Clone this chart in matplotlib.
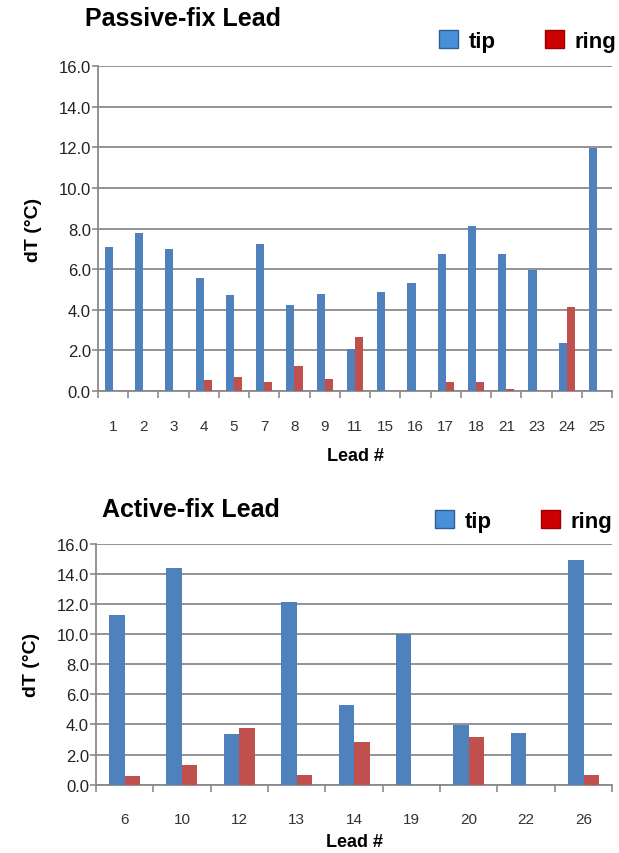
import numpy as np
import matplotlib.pyplot as plt
from matplotlib.patches import Patch

plt.rcParams['font.family'] = ['Liberation Sans', 'DejaVu Sans']

# Passive-fix leads
passive_leads = ['1', '2', '3', '4', '5', '7', '8', '9', '11', '15', '16', '17', '18', '21', '23', '24', '25']
passive_tip = [7.1, 7.76, 6.97, 5.55, 4.71, 7.22, 4.22, 4.78, 2.08, 4.89, 5.3, 6.76, 8.12, 6.76, 5.96, 2.35, 11.98]
passive_ring = [0.0, 0.0, 0.0, 0.54, 0.67, 0.44, 1.23, 0.61, 2.66, 0.0, 0.0, 0.44, 0.44, 0.08, 0.0, 4.15, 0.0]

# Active-fix leads
active_leads = ['6', '10', '12', '13', '14', '19', '20', '22', '26']
active_tip = [11.3, 14.4, 3.35, 12.17, 5.32, 10.0, 3.99, 3.41, 14.94]
active_ring = [0.58, 1.33, 3.75, 0.64, 2.86, 0.0, 3.17, 0.0, 0.62]

TIP_COLOR = '#4F81BD'
RING_COLOR = '#C0504D'
GRID_COLOR = '#8a8a8a'


def draw_panel(fig, rect, leads, tip, ring, title, title_xy, legend_xy, xlabel_pad):
    ax = fig.add_axes(rect)
    x = np.arange(len(leads))
    w = 0.27
    ax.bar(x - w / 2, tip, width=w, color=TIP_COLOR, zorder=3)
    ax.bar(x + w / 2, ring, width=w, color=RING_COLOR, zorder=3)

    ax.set_xlim(-0.5, len(leads) - 0.5)
    ax.set_ylim(0, 16)
    ax.set_yticks(np.arange(0, 16.1, 2))
    ax.set_yticklabels([f"{v:.1f}" for v in np.arange(0, 16.1, 2)], fontsize=12, color='#222222')

    # category ticks sit between groups, labels centred under groups
    ax.set_xticks(np.arange(-0.5, len(leads), 1.0))
    ax.set_xticklabels([])
    ax.set_xticks(x, minor=True)
    ax.set_xticklabels(leads, minor=True, fontsize=11, color='#333333')
    ax.tick_params(axis='x', which='minor', length=0, pad=20)
    ax.tick_params(axis='x', which='major', length=5, color=GRID_COLOR, width=1.2)
    ax.tick_params(axis='y', length=4, color=GRID_COLOR, width=1.2, pad=1)

    ax.yaxis.grid(True, color=GRID_COLOR, linewidth=1.3, zorder=0)
    ax.set_axisbelow(True)
    for side in ['top', 'right']:
        ax.spines[side].set_visible(False)
    for side in ['left', 'bottom']:
        ax.spines[side].set_color(GRID_COLOR)
        ax.spines[side].set_linewidth(1.3)

    ax.set_ylabel("dT (°C)", fontsize=14, fontweight='bold', labelpad=12)
    ax.set_xlabel("Lead #", fontsize=13, fontweight='bold', labelpad=xlabel_pad)

    fig.text(title_xy[0], title_xy[1], title, fontsize=18, fontweight='bold',
             va='center', ha='left')

    handles = [Patch(facecolor='#4A90D9', edgecolor='#2D5F96', label='tip'),
               Patch(facecolor='#CC0000', edgecolor='#990000', label='ring')]
    fig.legend(handles=handles, loc='center left', bbox_to_anchor=legend_xy,
               ncol=2, frameon=False, prop={'size': 16, 'weight': 'bold'},
               handlelength=0.85, handleheight=0.85, handletextpad=0.5,
               columnspacing=2.2, borderpad=0, borderaxespad=0)
    return ax


fig = plt.figure(figsize=(6.19, 8.54), dpi=100)

draw_panel(fig, [0.158, 0.541, 0.831, 0.3805], passive_leads, passive_tip, passive_ring,
           "Passive-fix Lead", (85 / 619, 1 - 19 / 854), (439 / 619, 1 - 42 / 854), 10)
draw_panel(fig, [0.155, 0.080, 0.834, 0.282], active_leads, active_tip, active_ring,
           "Active-fix Lead", (102 / 619, 1 - 510 / 854), (435 / 619, 1 - 522 / 854), 5)

fig.savefig('out.png', dpi=100)
